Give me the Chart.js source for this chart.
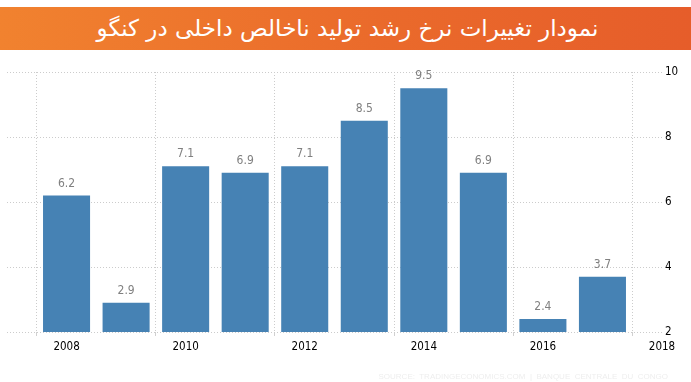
<!DOCTYPE html>
<html>
<head>
<meta charset="utf-8">
<script src="https://cdn.jsdelivr.net/npm/chart.js@4/dist/chart.umd.min.js"></script>
<style>
  html, body { margin: 0; padding: 0; background: #fff; }
  body { width: 691px; height: 382px; position: relative; overflow: hidden; }
  #banner {
    position: absolute; left: 0; top: 7px; width: 691px; height: 43px;
    background: linear-gradient(90deg, #f1822f 0%, #ea6a2b 55%, #e65d2a 100%);
    color: #fff; font-family: "DejaVu Sans", sans-serif; font-size: 23px;
    direction: rtl; text-align: center; line-height: 43px; padding-left: 4px; box-sizing: border-box;
  }
  #wrap { position: absolute; left: 0; top: 0; width: 691px; height: 382px; }
  #source {
    position: absolute; right: 23px; top: 372px; font-family: "Liberation Sans", Arial, sans-serif;
    font-size: 8px; color: #eeeeee; letter-spacing: 0px; white-space: nowrap;
  }
</style>
</head>
<body>
<div id="wrap"><canvas id="c" width="691" height="382"></canvas></div>
<div id="banner">نمودار تغییرات نرخ رشد تولید ناخالص داخلی در کنگو</div>
<div id="source">SOURCE:&nbsp; TRADINGECONOMICS.COM&nbsp; |&nbsp; BANQUE&nbsp; CENTRALE&nbsp; DU&nbsp; CONGO</div>
<script>
const categories = ['2007','2008','2009','2010','2011','2012','2013','2014','2015','2016','2017','2018'];
const gdpGrowth = [null, 6.2, 2.9, 7.1, 6.9, 7.1, 8.5, 9.5, 6.9, 2.4, 3.7, null];
const shownXTicks = ['2008','2010','2012','2014','2016','2018'];
const yTicks = [2, 4, 6, 8, 10];

const FONT = '"DejaVu Sans Condensed", "Liberation Sans Narrow", "Arial Narrow", sans-serif';

const valueLabels = {
  id: 'valueLabels',
  afterDatasetsDraw(chart) {
    const ctx = chart.ctx;
    const meta = chart.getDatasetMeta(0);
    ctx.save();
    ctx.font = '12px ' + FONT;
    ctx.fillStyle = '#808080';
    ctx.textAlign = 'center';
    ctx.textBaseline = 'middle';
    meta.data.forEach((bar, i) => {
      const v = gdpGrowth[i];
      if (v === null || v === undefined) return;
      ctx.fillText(v.toFixed(1), bar.x, bar.y - 12);
    });
    ctx.restore();
  }
};

new Chart(document.getElementById('c'), {
  type: 'bar',
  data: {
    labels: categories,
    datasets: [{
      data: gdpGrowth,
      backgroundColor: '#4682b4',
      borderWidth: 0,
      barPercentage: 0.79,
      categoryPercentage: 1.0
    }]
  },
  options: {
    responsive: false,
    animation: false,
    events: [],
    layout: { padding: { top: 72, left: 7, right: 0, bottom: 0 } },
    plugins: { legend: { display: false }, tooltip: { enabled: false }, title: { display: false } },
    scales: {
      x: {
        offset: false,
        border: { display: false, dash: [1, 2] },
        grid: {
          color: (c) => (c.tick && shownXTicks.includes(categories[c.index])) ? '#cccccc' : 'rgba(0,0,0,0)',
          tickColor: (c) => (c.tick && shownXTicks.includes(categories[c.index])) ? '#d0d0d0' : 'rgba(0,0,0,0)',
          tickLength: 4,
          tickBorderDash: []
        },
        ticks: {
          autoSkip: false,
          maxRotation: 0,
          padding: 4,
          color: '#000',
          font: { family: FONT, size: 11.5 },
          callback: function(val, idx) { const l = categories[idx]; return shownXTicks.includes(l) ? l : ''; }
        },
        afterFit: (s) => { s.height = 50; }
      },
      y: {
        position: 'right',
        min: 2, max: 10,
        border: { display: false, dash: [1, 2] },
        grid: { color: '#cccccc', drawTicks: false },
        afterBuildTicks: (s) => { s.ticks = yTicks.map(v => ({ value: v })); },
        ticks: {
          padding: 3,
          color: '#000',
          font: { family: FONT, size: 11.5 }
        },
        afterFit: (s) => { s.width = 29; }
      }
    }
  },
  plugins: [valueLabels]
});
</script>
</body>
</html>
